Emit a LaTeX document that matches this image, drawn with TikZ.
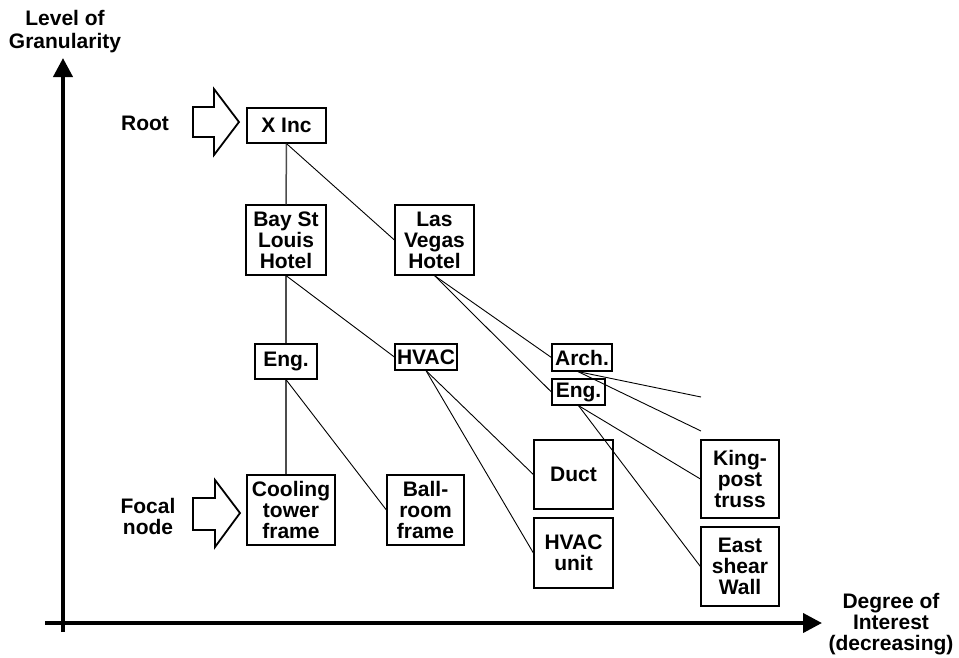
\documentclass[tikz,border=0pt]{standalone}
\usepackage{fontspec}
\setmainfont{Liberation Sans}
\usetikzlibrary{arrows.meta}
\begin{document}
\begin{tikzpicture}[x=1pt,y=-1pt,
  every node/.style={font=\fontsize{21}{21}\selectfont\bfseries},
  box/.style={draw,line width=1.2pt,align=center,inner sep=0pt},
  lbl/.style={align=center,inner sep=0pt},
  conn/.style={line width=0.9pt},
  vconn/.style={line width=1.5pt,black!70},
  axis/.style={line width=4pt,-{Triangle[width=19pt,length=19pt]}},
  blockarrow/.style={draw,line width=1.8pt,line join=miter}]
\useasboundingbox (0,0) rectangle (959,657);
% axes
\draw[axis] (63,632) -- (63,58);
\draw[axis] (45,623) -- (822,623);
\node[lbl,font=\fontsize{21}{23}\selectfont\bfseries] (ylab) at (65,32) {Level of\\Granularity};
\node[lbl] (xlab) at (891,624) {Degree of\\Interest\\(decreasing)};
% block arrows
\draw[blockarrow] (193,107) -- (214,107) -- (214,89) -- (239,122) -- (214,155) -- (214,137) -- (193,137) -- cycle;
\draw[blockarrow] (193,498) -- (215,498) -- (215,480) -- (240,513) -- (215,547) -- (215,530) -- (193,530) -- cycle;
\node[lbl] (root) at (145,123) {Root};
\node[lbl] (focal) at (148,516) {Focal\\node};
% boxes
\node[box,minimum width=79pt,minimum height=35pt] (xinc) at (286.5,125.5) {X Inc};
\node[box,minimum width=80pt,minimum height=70pt] (bay) at (286,240) {Bay St\\Louis\\Hotel};
\node[box,minimum width=79pt,minimum height=70pt] (lv) at (434.5,240) {Las\\Vegas\\Hotel};
\node[box,minimum width=62pt,minimum height=35pt] (eng1) at (286,361.5) {Eng.};
\node[box,minimum width=62pt,minimum height=26pt] (hvac) at (426,357) {HVAC};
\node[box,minimum width=60pt,minimum height=27pt] (arch) at (582,357.5) {Arch.};
\node[box,minimum width=53pt,minimum height=26pt] (eng2) at (578.5,392) {Eng.};
\node[box,minimum width=79pt,minimum height=69pt] (duct) at (573.5,474.5) {Duct};
\node[box,minimum width=79pt,minimum height=70pt] (hvacu) at (573.5,553) {HVAC\\unit};
\node[box,minimum width=78pt,minimum height=78pt] (king) at (740,479) {King-\\post\\truss};
\node[box,minimum width=78pt,minimum height=79pt] (east) at (740,566.5) {East\\shear\\Wall};
\node[box,minimum width=88pt,minimum height=70pt] (cool) at (291,510) {Cooling\\tower\\frame};
\node[box,minimum width=77pt,minimum height=70pt] (ball) at (425.5,510) {Ball-\\room\\frame};
\coordinate (a1) at (701,397);
\coordinate (a2) at (701,431);
% connectors
\draw[vconn] (xinc.south) -- (bay.north);
\draw[conn] (xinc.south) -- (lv.west);
\draw[vconn] (bay.south) -- (eng1.north);
\draw[conn] (bay.south) -- (hvac.west);
\draw[vconn] (eng1.south) -- (eng1.south |- cool.north);
\draw[conn] (eng1.south) -- (ball.west);
\draw[conn] (lv.south) -- (arch.west);
\draw[conn] (lv.south) -- (eng2.west);
\draw[conn] (hvac.south) -- (duct.west);
\draw[conn] (hvac.south) -- (hvacu.west);
\draw[conn] ([xshift=-4pt]arch.south) -- (a1);
\draw[conn] ([xshift=-4pt]arch.south) -- (a2);
\draw[conn] (eng2.south) -- (king.west);
\draw[conn] (eng2.south) -- (east.west);
\end{tikzpicture}
\end{document}
